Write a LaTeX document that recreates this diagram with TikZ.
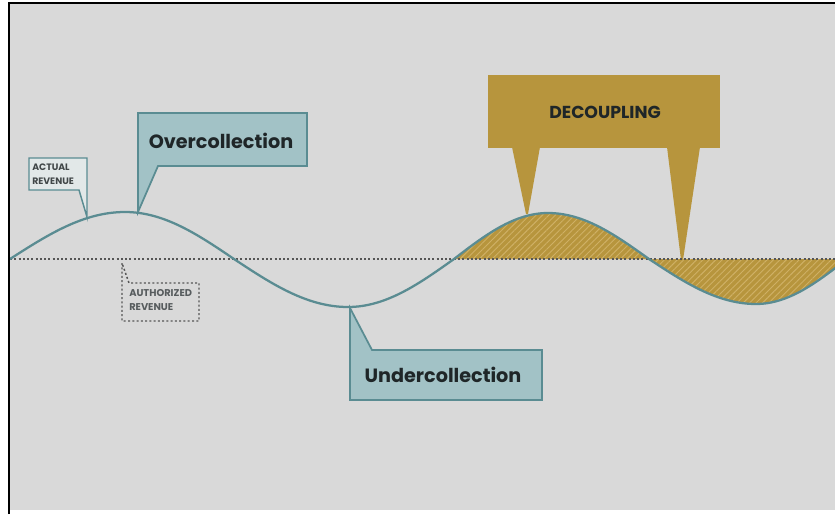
\documentclass[tikz,border=0pt]{standalone}
\usepackage{fontspec}
\setmainfont{Poppins}
\usetikzlibrary{patterns.meta}
\definecolor{bggrey}{HTML}{D9D9D9}
\definecolor{curveTeal}{HTML}{5A8C92}
\definecolor{calloutFill}{HTML}{A2C2C6}
\definecolor{smallFill}{HTML}{E2E8E8}
\definecolor{goldFill}{HTML}{B7953D}
\definecolor{goldLight}{HTML}{CFB065}
\definecolor{dotGrey}{HTML}{555555}
\definecolor{textDark}{HTML}{1F2628}
\tikzset{
  bigLabel/.style={font=\bfseries\fontsize{14.4}{18}\selectfont, text=textDark, inner sep=0pt},
  tinyLabel/.style={font=\bfseries\fontsize{7}{10.5}\selectfont, text=textDark!85, align=left, inner sep=0pt, anchor=west},
  tealBox/.style={fill=calloutFill, draw=curveTeal, line width=1.3pt, line join=miter},
  smallBox/.style={fill=smallFill, draw=curveTeal, line width=1.1pt},
  dotLine/.style={draw=dotGrey, line width=1.4pt, dash pattern=on 1.5pt off 1.7pt},
  waveLine/.style={draw=curveTeal, line width=1.7pt},
  goldShape/.style={fill=goldFill},
}
\begin{document}
\begin{tikzpicture}[x=0.75pt,y=-0.75pt]
\useasboundingbox (0,0) rectangle (835,514);
\fill[white] (0,0) rectangle (835,514);
\fill[bggrey] (10,4) rectangle (835,510);
\draw[black, line width=2.2pt] (9,514) -- (9,3) -- (835,3);

% wave key points
\coordinate (w0) at (10,259);
\coordinate (p1) at (125,212);
\coordinate (z1) at (234,259);
\coordinate (t1) at (348,307);
\coordinate (z2) at (454,259);
\coordinate (p2) at (548,213);
\coordinate (z3) at (649,259);
\coordinate (t2) at (756,304);
\coordinate (z4) at (847,259);
\coordinate (bl) at (10,259);
\coordinate (br) at (835,259);

\begin{scope}
\clip (10,4) rectangle (835,510);
% hatched decoupling area
\fill[goldShape] (z2) sin (p2) cos (z3) sin (t2) cos (z4) -- cycle;
\fill[pattern={Lines[angle=45,distance=3.4pt,line width=0.7pt]}, pattern color=goldLight]
  (z2) sin (p2) cos (z3) sin (t2) cos (z4) -- cycle;
% decoupling callout
\fill[goldShape] (488,75) rectangle (720,148);
\fill[goldShape] (512,147) -- (540,147) -- (528,214) -- (526,214) -- cycle;
\fill[goldShape] (667,147) -- (700,147) -- (683,260) -- (681,260) -- cycle;
% baseline
\draw[dotLine] (bl) -- (br);
% wave
\draw[waveLine] (w0) sin (p1) cos (z1) sin (t1) cos (z2) sin (p2) cos (z3) sin (t2) cos (z4);
\end{scope}

\node[font=\bfseries\fontsize{13}{16}\selectfont, text=textDark, inner sep=0pt] (dec) at (605,112) {DECOUPLING};

% overcollection callout
\coordinate (overTip) at (138,212);
\draw[tealBox] (138,113) -- (307,113) -- (307,166) -- (158,166) -- (overTip) -- cycle;
\node[bigLabel] (over) at (221,141) {Overcollection};

% undercollection callout
\coordinate (underTip) at (350,308);
\draw[tealBox] (underTip) -- (372,350) -- (542,350) -- (542,400) -- (350,400) -- cycle;
\node[bigLabel] (under) at (443,375) {Undercollection};

% actual revenue callout
\coordinate (actTip) at (87,217);
\draw[smallBox] (29,158) -- (87,158) -- (87,190) -- (actTip) -- (79,190) -- (29,190) -- cycle;
\node[tinyLabel] (act) at (32,174) {ACTUAL\\REVENUE};

% authorized revenue callout
\coordinate (authTip) at (122,263);
\draw[dotLine, line width=1.1pt] (authTip) -- (122,321) -- (199,321) -- (199,283) -- (129,283) -- cycle;
\node[tinyLabel, text=textDark!75, font=\bfseries\fontsize{7.4}{10.5}\selectfont] (auth) at (129,300) {AUTHORIZED\\REVENUE};
\end{tikzpicture}
\end{document}
